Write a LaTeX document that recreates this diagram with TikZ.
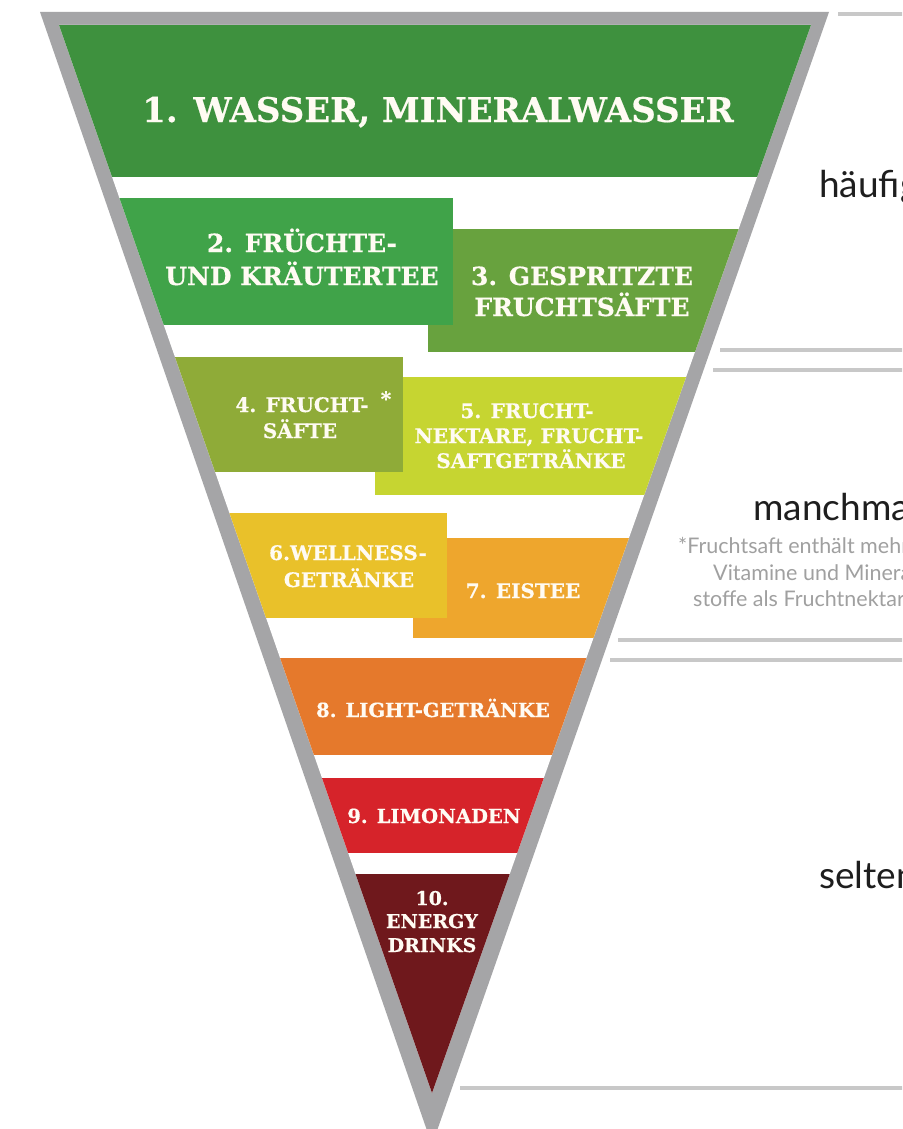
\documentclass[tikz,border=0pt]{standalone}
\usepackage{fontspec}
\newfontfamily\slab{DejaVu Serif}[BoldFeatures={FakeBold=0.5}]
\newfontfamily\geo{Lato}
\definecolor{frame}{RGB}{165,165,167}
\definecolor{cA}{RGB}{62,145,62}
\definecolor{cB}{RGB}{64,163,73}
\definecolor{cC}{RGB}{104,162,62}
\definecolor{cD}{RGB}{143,171,56}
\definecolor{cE}{RGB}{198,213,49}
\definecolor{cF}{RGB}{233,193,42}
\definecolor{cG}{RGB}{238,166,45}
\definecolor{cH}{RGB}{229,121,44}
\definecolor{cI}{RGB}{214,35,42}
\definecolor{cJ}{RGB}{111,24,28}
\definecolor{labelwhite}{RGB}{255,251,243}
\definecolor{rulegray}{RGB}{200,200,200}
\definecolor{sidetext}{RGB}{30,30,30}
\definecolor{notegray}{RGB}{160,160,160}
\tikzset{
  lbl/.style={text=labelwhite, inner sep=0pt, anchor=base, font=\slab\bfseries\fontsize{20}{24}\selectfont},
  lblm/.style={lbl, font=\slab\bfseries\fontsize{25}{30}\selectfont},
  lblxl/.style={lbl, font=\slab\bfseries\fontsize{34}{40}\selectfont},
  lbls/.style={lbl, font=\slab\bfseries\fontsize{19}{23}\selectfont},
  side/.style={inner sep=0pt, anchor=base west, text=sidetext, font=\geo\fontsize{37}{44}\selectfont},
  note/.style={inner sep=0pt, anchor=base west, text=notegray, font=\geo\fontsize{21.5}{26}\selectfont},
  rulegline/.style={draw=rulegray, line width=3.5pt},
}
\begin{document}
\begin{tikzpicture}[x=1pt,y=-1pt]
\useasboundingbox (0,0) rectangle (902,1129);
\clip (0,0) rectangle (902,1129);
\fill[white] (0,0) rectangle (902,1129);
% frame triangle
\fill[frame] (40,12) -- (829,12) -- (432,1145) -- cycle;
\fill[white] (59,25) -- (811,25) -- (432,1093) -- cycle;
\begin{scope}
  \clip (59,25) -- (811,25) -- (432,1093) -- cycle;
  \fill[cA] (0,25) rectangle (902,177);
  \fill[cC] (428,229) rectangle (902,352);
  \fill[cB] (0,198) rectangle (453,325);
  \fill[cE] (375,377) rectangle (902,495);
  \fill[cD] (0,357) rectangle (403,472);
  \fill[cG] (413,538) rectangle (902,638);
  \fill[cF] (0,513) rectangle (447,618);
  \fill[cH] (0,658) rectangle (902,755);
  \fill[cI] (0,778) rectangle (902,853);
  \fill[cJ] (0,874) rectangle (902,1100);
\end{scope}
% labels
\node[lblxl] (t1) at (438,122) {1. WASSER, MINERALWASSER};
\node[lblm] (t2a) at (302,252) {2. FRÜCHTE-};
\node[lblm] (t2b) at (302,285) {UND KRÄUTERTEE};
\node[lblm] (t3a) at (582,285) {3. GESPRITZTE};
\node[lblm] (t3b) at (582,316) {FRUCHTSÄFTE};
\node[lbl] (t4a) at (302,412) {4. FRUCHT-};
\node[lbl] (t4b) at (300,438) {SÄFTE};
\node[lbl] (star) at (386,406) {*};
\node[lbl] (t5a) at (527,418) {5. FRUCHT-};
\node[lbl] (t5b) at (529,443) {NEKTARE, FRUCHT-};
\node[lbl] (t5c) at (531,468) {SAFTGETRÄNKE};
\node[lbl] (t6a) at (348,560) {6.WELLNESS-};
\node[lbl] (t6b) at (349,587) {GETRÄNKE};
\node[lbl] (t7) at (523,598) {7. EISTEE};
\node[lbl, font=\slab\bfseries\fontsize{19.5}{24}\selectfont] (t8) at (433,717) {8. LIGHT-GETRÄNKE};
\node[lbl, font=\slab\bfseries\fontsize{19.5}{24}\selectfont] (t9) at (434,823) {9. LIMONADEN};
\node[lbls] (t10a) at (432,905) {10.};
\node[lbls] (t10b) at (432,928) {ENERGY};
\node[lbls] (t10c) at (432,952) {DRINKS};
% right side
\coordinate (r1a) at (838,14);  \coordinate (r1b) at (906,14);
\coordinate (r2a) at (720,350); \coordinate (r2b) at (906,350);
\coordinate (r3a) at (713,370); \coordinate (r3b) at (906,370);
\coordinate (r4a) at (618,640); \coordinate (r4b) at (906,640);
\coordinate (r5a) at (610,660); \coordinate (r5b) at (906,660);
\coordinate (r6a) at (460,1088); \coordinate (r6b) at (906,1088);
\draw[rulegline] (r1a) -- (r1b);
\draw[rulegline] (r2a) -- (r2b);
\draw[rulegline] (r3a) -- (r3b);
\draw[rulegline] (r4a) -- (r4b);
\draw[rulegline] (r5a) -- (r5b);
\draw[rulegline] (r6a) -- (r6b);
\node[side] (often) at (819,197) {häufig};
\node[side] (sometimes) at (753,520) {manchmal};
\node[side] (rarely) at (819,888) {selten};
\node[note] (n1) at (678,553) {*Fruchtsaft enthält mehr};
\node[note] (n2) at (713,580) {Vitamine und Mineral-};
\node[note] (n3) at (693,606) {stoffe als Fruchtnektar};
\end{tikzpicture}
\end{document}
